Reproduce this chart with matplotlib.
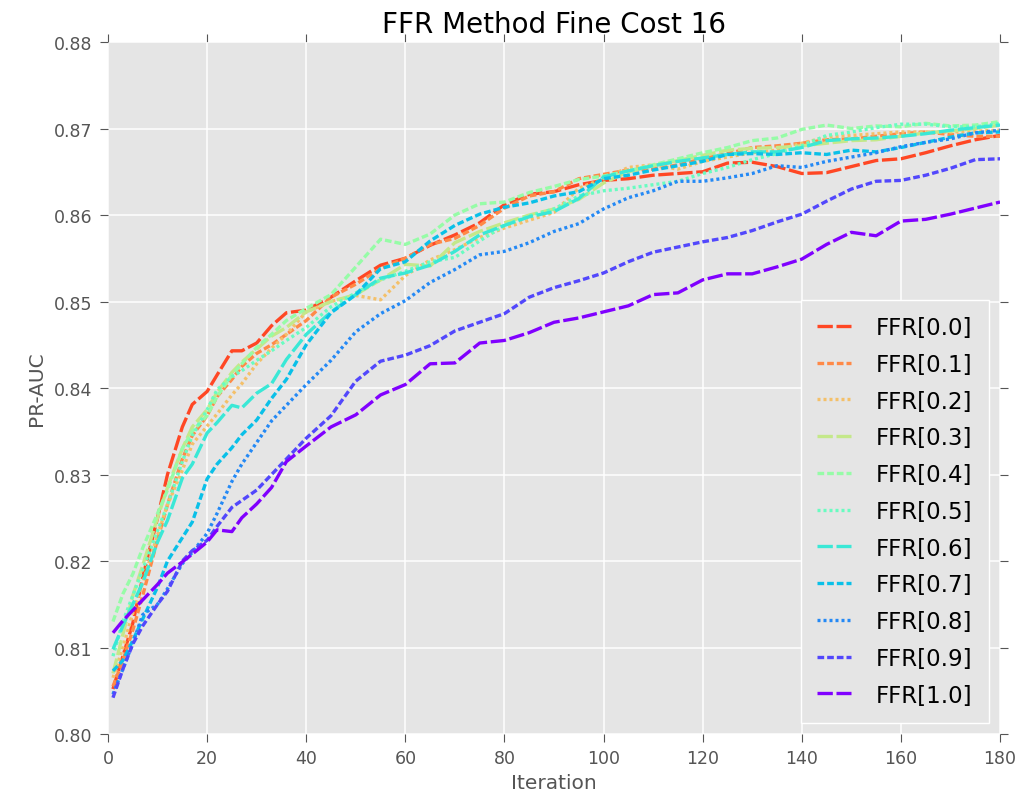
"""FFR 方法 PR-AUC 随迭代次数变化（Fine Cost 16）。"""

import matplotlib

matplotlib.use("Agg")
import matplotlib.pyplot as plt  # noqa: E402
import numpy as np  # noqa: E402

iterations = [1, 3, 5, 7, 10, 12, 15, 17, 20, 22, 25, 27, 30, 33, 36, 40,
              45, 50, 55, 60, 65, 70, 75, 80, 85, 90, 95, 100, 105, 110,
              115, 120, 125, 130, 135, 140, 145, 150, 155, 160, 165, 170,
              175, 180]

ffr_00 = [0.8052, 0.8090, 0.8128, 0.8181, 0.8250, 0.8300, 0.8355, 0.8381,
          0.8396, 0.8415, 0.8443, 0.8443, 0.8452, 0.8472, 0.8487, 0.8490,
          0.8505, 0.8524, 0.8542, 0.8550, 0.8565, 0.8577, 0.8591, 0.8612,
          0.8624, 0.8627, 0.8635, 0.8640, 0.8642, 0.8646, 0.8648, 0.8650,
          0.8660, 0.8661, 0.8656, 0.8648, 0.8649, 0.8656, 0.8663, 0.8665,
          0.8672, 0.8680, 0.8687, 0.8692]
ffr_01 = [0.8055, 0.8085, 0.8120, 0.8160, 0.8225, 0.8265, 0.8318, 0.8345,
          0.8368, 0.8390, 0.8410, 0.8425, 0.8440, 0.8450, 0.8462, 0.8478,
          0.8505, 0.8520, 0.8538, 0.8550, 0.8566, 0.8573, 0.8588, 0.8608,
          0.8622, 0.8627, 0.8642, 0.8647, 0.8652, 0.8653, 0.8658, 0.8665,
          0.8671, 0.8678, 0.8680, 0.8683, 0.8687, 0.8688, 0.8691, 0.8694,
          0.8696, 0.8693, 0.8691, 0.8691]
ffr_02 = [0.8065, 0.8100, 0.8140, 0.8175, 0.8230, 0.8265, 0.8305, 0.8335,
          0.8356, 0.8370, 0.8392, 0.8405, 0.8428, 0.8446, 0.8462, 0.8488,
          0.8500, 0.8507, 0.8502, 0.8530, 0.8548, 0.8560, 0.8574, 0.8585,
          0.8594, 0.8603, 0.8631, 0.8642, 0.8655, 0.8658, 0.8653, 0.8662,
          0.8667, 0.8672, 0.8675, 0.8683, 0.8690, 0.8692, 0.8694, 0.8696,
          0.8696, 0.8696, 0.8697, 0.8698]
ffr_03 = [0.8070, 0.8115, 0.8160, 0.8195, 0.8250, 0.8285, 0.8330, 0.8355,
          0.8375, 0.8395, 0.8418, 0.8430, 0.8445, 0.8460, 0.8470, 0.8488,
          0.8500, 0.8508, 0.8525, 0.8543, 0.8541, 0.8568, 0.8581, 0.8591,
          0.8600, 0.8607, 0.8618, 0.8637, 0.8650, 0.8657, 0.8663, 0.8669,
          0.8675, 0.8677, 0.8678, 0.8680, 0.8683, 0.8686, 0.8687, 0.8691,
          0.8695, 0.8697, 0.8700, 0.8704]
ffr_04 = [0.8130, 0.8162, 0.8185, 0.8215, 0.8255, 0.8282, 0.8330, 0.8350,
          0.8368, 0.8390, 0.8415, 0.8428, 0.8447, 0.8462, 0.8478, 0.8492,
          0.8508, 0.8540, 0.8572, 0.8566, 0.8578, 0.8600, 0.8613, 0.8615,
          0.8626, 0.8633, 0.8641, 0.8645, 0.8651, 0.8658, 0.8665, 0.8672,
          0.8678, 0.8686, 0.8689, 0.8699, 0.8704, 0.8700, 0.8703, 0.8702,
          0.8706, 0.8703, 0.8704, 0.8708]
ffr_05 = [0.8090, 0.8130, 0.8160, 0.8190, 0.8235, 0.8265, 0.8315, 0.8345,
          0.8375, 0.8398, 0.8413, 0.8420, 0.8432, 0.8443, 0.8455, 0.8470,
          0.8494, 0.8510, 0.8525, 0.8535, 0.8546, 0.8551, 0.8570, 0.8588,
          0.8599, 0.8607, 0.8622, 0.8628, 0.8631, 0.8635, 0.8639, 0.8648,
          0.8655, 0.8664, 0.8671, 0.8680, 0.8692, 0.8696, 0.8701, 0.8705,
          0.8705, 0.8702, 0.8702, 0.8706]
ffr_06 = [0.8098, 0.8125, 0.8150, 0.8175, 0.8222, 0.8247, 0.8296, 0.8312,
          0.8348, 0.8360, 0.8380, 0.8377, 0.8394, 0.8405, 0.8433, 0.8462,
          0.8488, 0.8508, 0.8527, 0.8533, 0.8542, 0.8558, 0.8577, 0.8588,
          0.8598, 0.8604, 0.8619, 0.8644, 0.8651, 0.8657, 0.8662, 0.8666,
          0.8670, 0.8673, 0.8673, 0.8678, 0.8686, 0.8688, 0.8689, 0.8691,
          0.8694, 0.8698, 0.8701, 0.8704]
ffr_07 = [0.8073, 0.8085, 0.8108, 0.8133, 0.8170, 0.8200, 0.8227, 0.8245,
          0.8295, 0.8312, 0.8331, 0.8346, 0.8363, 0.8388, 0.8410, 0.8450,
          0.8487, 0.8508, 0.8538, 0.8546, 0.8570, 0.8588, 0.8601, 0.8609,
          0.8614, 0.8622, 0.8627, 0.8642, 0.8646, 0.8652, 0.8657, 0.8662,
          0.8670, 0.8671, 0.8670, 0.8672, 0.8670, 0.8675, 0.8673, 0.8678,
          0.8684, 0.8690, 0.8695, 0.8696]
ffr_08 = [0.8046, 0.8075, 0.8105, 0.8138, 0.8150, 0.8168, 0.8197, 0.8210,
          0.8232, 0.8255, 0.8292, 0.8312, 0.8337, 0.8362, 0.8380, 0.8404,
          0.8432, 0.8465, 0.8486, 0.8501, 0.8522, 0.8537, 0.8554, 0.8558,
          0.8568, 0.8581, 0.8590, 0.8607, 0.8620, 0.8628, 0.8639, 0.8639,
          0.8643, 0.8648, 0.8657, 0.8655, 0.8662, 0.8667, 0.8672, 0.8679,
          0.8684, 0.8688, 0.8695, 0.8698]
ffr_09 = [0.8042, 0.8075, 0.8104, 0.8125, 0.8150, 0.8165, 0.8200, 0.8212,
          0.8224, 0.8240, 0.8262, 0.8270, 0.8282, 0.8300, 0.8318, 0.8342,
          0.8368, 0.8408, 0.8431, 0.8438, 0.8449, 0.8466, 0.8476, 0.8486,
          0.8505, 0.8516, 0.8524, 0.8533, 0.8546, 0.8557, 0.8563, 0.8569,
          0.8574, 0.8582, 0.8592, 0.8601, 0.8616, 0.8630, 0.8639, 0.8640,
          0.8646, 0.8654, 0.8664, 0.8665]
ffr_10 = [0.8117, 0.8131, 0.8143, 0.8155, 0.8173, 0.8186, 0.8199, 0.8208,
          0.8222, 0.8236, 0.8234, 0.8250, 0.8266, 0.8285, 0.8315, 0.8333,
          0.8355, 0.8369, 0.8392, 0.8404, 0.8428, 0.8429, 0.8452, 0.8455,
          0.8464, 0.8476, 0.8481, 0.8488, 0.8495, 0.8508, 0.8510, 0.8525,
          0.8532, 0.8532, 0.8540, 0.8549, 0.8566, 0.8580, 0.8576, 0.8593,
          0.8595, 0.8601, 0.8608, 0.8615]

series = [ffr_00, ffr_01, ffr_02, ffr_03, ffr_04, ffr_05,
          ffr_06, ffr_07, ffr_08, ffr_09, ffr_10]
labels = [f"FFR[{r:.1f}]" for r in np.linspace(0, 1, 11)]

# 线型：长虚线 / 短虚线 / 点线
LONG = (0, (4.6, 1.1))
MID = (0, (2.0, 0.9))
DOT = (0, (0.9, 0.9))
styles = [LONG, MID, DOT, LONG, MID, DOT, LONG, MID, DOT, MID, LONG]

GRAY = "#555555"

fig = plt.figure(figsize=(10.2, 8.04), dpi=100)
ax = fig.add_axes([0.1059, 0.0858, 0.8745, 0.8607])
ax.set_facecolor("#E5E5E5")
for sp in ax.spines.values():
    sp.set_visible(False)

colors = plt.get_cmap("rainbow")(np.linspace(0, 1, 12))[:11][::-1]
for vals, lab, ls, c in zip(series, labels, styles, colors):
    ax.plot(iterations, vals, linestyle=ls, color=c, linewidth=2.4, label=lab)

ax.set_xlim(0, 180)
ax.set_ylim(0.80, 0.88)
ax.set_xticks(np.arange(0, 181, 20))
ax.set_yticks(np.arange(0.80, 0.881, 0.01))
ax.set_yticklabels([f"{v:.2f}" for v in np.arange(0.80, 0.881, 0.01)])
ax.grid(True, color="white", linewidth=1.1)
ax.set_axisbelow(True)
ax.tick_params(direction="out", length=6, width=0.8, color=GRAY,
               labelcolor=GRAY, labelsize=12.5, pad=5,
               top=True, right=True)

ax.set_title("FFR Method Fine Cost 16", fontsize=20, pad=7)
ax.set_xlabel("Iteration", fontsize=14.5, color=GRAY, labelpad=4)
ax.set_ylabel("PR-AUC", fontsize=14.5, color=GRAY, labelpad=6)

leg = ax.legend(loc="lower right", fontsize=16.5, handlelength=1.45,
                handletextpad=1.1, labelspacing=0.6, borderpad=0.7,
                facecolor="#E5E5E5", edgecolor="white", framealpha=1,
                fancybox=False)
leg.get_frame().set_linewidth(1.0)

fig.savefig("out.png", dpi=100)
